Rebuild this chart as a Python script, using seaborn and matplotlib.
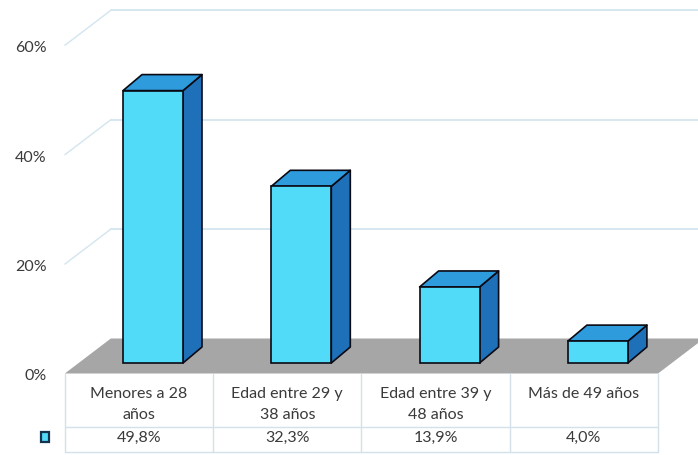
import numpy as np
import pandas as pd
import seaborn as sns
import matplotlib.pyplot as plt
from matplotlib.patches import Polygon, Rectangle

categories = ["Menores a 28\naños", "Edad entre 29 y\n38 años", "Edad entre 39 y\n48 años", "Más de 49 años"]
values = [49.8, 32.3, 13.9, 4.0]
value_labels = ["49,8%", "32,3%", "13,9%", "4,0%"]
yticks = [0, 20, 40, 60]
ytick_labels = ["0%", "20%", "40%", "60%"]

FRONT = "#52daf9"
TOP = "#2e9bdc"
SIDE = "#1e70b8"
EDGE = "#0a0a14"
FLOOR = "#a6a6a6"
GRID = "#d3e5ef"
TABLE = "#d5e1ea"
TXT = "#3a3a3a"

W, H = 698, 455
CAT_PX = 148.3   # pixels per category
PCT_PX = 5.47    # pixels per percent
X0_PX = 153      # pixel x of first category (bar plane)
Y0_PX = 363      # pixel y of 0% (bar plane)
FS = 11.5

sns.set_theme(style="white")
plt.rcParams["font.family"] = ["Lato", "DejaVu Sans"]

fig = plt.figure(figsize=(W / 100, H / 100), dpi=100)
ax = fig.add_axes([0, 0, 1, 1])

df = pd.DataFrame({"cat": categories, "val": values})
sns.barplot(data=df, x="cat", y="val", width=60 / CAT_PX, color=FRONT,
            saturation=1, edgecolor=EDGE, linewidth=1.2, ax=ax, zorder=5)

ax.set_xlim(-X0_PX / CAT_PX, (W - X0_PX) / CAT_PX)
ax.set_ylim(-(H - Y0_PX) / PCT_PX, Y0_PX / PCT_PX)
ax.axis("off")


def dx(px):
    return px / CAT_PX


def dy(px):
    return px / PCT_PX


# depth offsets (pixels): floor front plane and back plane relative to bar plane
FX, FY = dx(-14), dy(-10.5)
BX, BY = dx(32), dy(24.5)
n = len(categories)
left, right = -0.5, n - 0.5

# back wall gridlines and side wall diagonals
for v in yticks[1:]:
    ax.plot([left + BX, right + BX + 1], [v + BY, v + BY], color=GRID, lw=1.3, zorder=1,
            clip_on=False)
    ax.plot([left + FX, left + BX], [v + FY, v + BY], color=GRID, lw=1.0, zorder=1,
            clip_on=False)

# floor
floor = Polygon([(left + FX, FY), (right + FX, FY), (right + BX, BY), (left + BX, BY)],
                closed=True, facecolor=FLOOR, edgecolor="none", zorder=2, clip_on=False)
ax.add_patch(floor)

# 3D sides of bars
bdx, bdy = dx(19), dy(16)
for p in list(ax.patches):
    if p is floor:
        continue
    x0, w, h = p.get_x(), p.get_width(), p.get_height()
    side = Polygon([(x0 + w, 0), (x0 + w + bdx, bdy), (x0 + w + bdx, h + bdy), (x0 + w, h)],
                   closed=True, facecolor=SIDE, edgecolor=EDGE, lw=1.2, zorder=4,
                   joinstyle="round")
    top = Polygon([(x0, h), (x0 + w, h), (x0 + w + bdx, h + bdy), (x0 + bdx, h + bdy)],
                  closed=True, facecolor=TOP, edgecolor=EDGE, lw=1.2, zorder=4,
                  joinstyle="round")
    ax.add_patch(side)
    ax.add_patch(top)

# y tick labels (front plane)
for v, lab in zip(yticks, ytick_labels):
    ax.text(left + FX - dx(18), v + FY - dy(3), lab, ha="right", va="center",
            fontsize=FS, color=TXT)

# data table
y_top = FY
y_mid = dy(Y0_PX - 427)
y_bot = dy(Y0_PX - 452)
for i in range(n + 1):
    xb = left + FX + i
    ax.plot([xb, xb], [y_top, y_bot], color=TABLE, lw=1.0, zorder=1, clip_on=False)
ax.plot([left + FX, right + FX], [y_mid, y_mid], color=TABLE, lw=1.0, zorder=1)
ax.plot([left + FX, right + FX], [y_bot, y_bot], color=TABLE, lw=1.0, zorder=1)

y_head = dy(Y0_PX - 387)
y_val = dy(Y0_PX - 438)
for i, (c, vl) in enumerate(zip(categories, value_labels)):
    ax.text(i + FX, y_head, c, ha="center", va="top", fontsize=FS, color=TXT,
            linespacing=1.6)
    ax.text(i + FX, y_val, vl, ha="center", va="center", fontsize=FS, color=TXT)

# legend key
ax.add_patch(Rectangle((left + FX - dx(24), dy(Y0_PX - 442)), dx(8), dy(10),
                       facecolor=FRONT, edgecolor="#15324f", lw=1.6, zorder=6))

fig.savefig("out.png", dpi=100)
